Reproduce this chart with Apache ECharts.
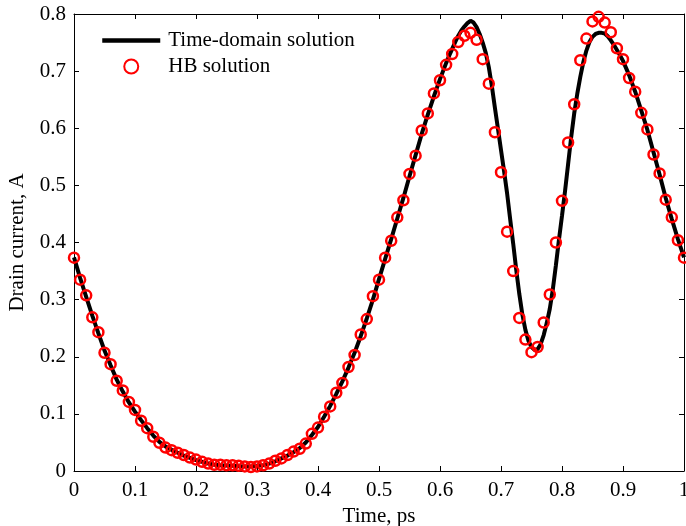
<!DOCTYPE html>
<html>
<head>
<meta charset="utf-8">
<script src="https://cdn.jsdelivr.net/npm/echarts@6/dist/echarts.min.js"></script>
<style>html,body{margin:0;padding:0;background:#fff}#c{width:686px;height:526px}</style>
</head>
<body>
<div id="c"></div>
<script>
// Time-domain solution (line)
var tdTime = [0,0.01,0.02,0.03,0.04,0.05,0.06,0.07,0.08,0.09,0.10,0.11,0.12,0.13,0.14,0.15,0.16,0.17,0.18,0.19,
  0.20,0.21,0.22,0.23,0.24,0.25,0.26,0.27,0.28,0.29,0.30,0.31,0.32,0.33,0.34,0.35,0.36,0.37,0.38,0.39,
  0.40,0.41,0.42,0.43,0.44,0.45,0.46,0.47,0.48,0.49,0.50,0.51,0.52,0.53,0.54,0.55,0.56,0.57,0.58,0.59,
  0.60,0.605,0.61,0.615,0.62,0.625,0.63,0.635,0.64,0.645,0.65,0.655,0.66,0.665,0.67,0.675,0.68,0.685,0.69,0.695,
  0.70,0.705,0.71,0.715,0.72,0.725,0.73,0.735,0.74,0.745,0.75,0.755,0.76,0.765,0.77,0.775,0.78,0.785,0.79,0.795,
  0.80,0.805,0.81,0.815,0.82,0.825,0.83,0.835,0.84,0.845,0.85,0.855,0.86,0.865,0.87,0.875,0.88,0.885,0.89,0.895,
  0.90,0.91,0.92,0.93,0.94,0.95,0.96,0.97,0.98,0.99,1.00];
var tdCurrent = [0.374,0.338,0.305,0.272,0.241,0.211,0.185,0.160,0.139,0.120,0.104,0.089,0.075,0.062,0.051,0.043,0.037,0.032,0.027,0.023,
  0.019,0.016,0.013,0.011,0.010,0.0095,0.009,0.0085,0.008,0.008,0.009,0.010,0.013,0.017,0.022,0.027,0.033,0.040,0.050,0.063,
  0.077,0.095,0.114,0.135,0.157,0.181,0.207,0.236,0.267,0.300,0.336,0.371,0.406,0.442,0.478,0.516,0.553,0.590,0.624,0.656,
  0.686,0.700,0.714,0.727,0.739,0.751,0.762,0.771,0.778,0.784,0.788,0.785,0.777,0.765,0.750,0.732,0.707,0.674,0.636,0.599,
  0.562,0.525,0.486,0.441,0.398,0.352,0.310,0.274,0.247,0.228,0.217,0.212,0.213,0.222,0.238,0.259,0.284,0.318,0.360,0.405,
  0.447,0.490,0.537,0.584,0.626,0.660,0.690,0.716,0.736,0.751,0.760,0.765,0.767,0.767,0.766,0.761,0.754,0.746,0.737,0.728,
  0.718,0.693,0.664,0.631,0.597,0.558,0.519,0.478,0.441,0.406,0.374];

// HB solution (circles)
var hbTime = [0,0.01,0.02,0.03,0.04,0.05,0.06,0.07,0.08,0.09,0.10,0.11,0.12,0.13,0.14,0.15,0.16,0.17,0.18,0.19,
  0.20,0.21,0.22,0.23,0.24,0.25,0.26,0.27,0.28,0.29,0.30,0.31,0.32,0.33,0.34,0.35,0.36,0.37,0.38,0.39,
  0.40,0.41,0.42,0.43,0.44,0.45,0.46,0.47,0.48,0.49,0.50,0.51,0.52,0.53,0.54,0.55,0.56,0.57,0.58,0.59,
  0.60,0.61,0.62,0.63,0.64,0.65,0.66,0.67,0.68,0.69,0.70,0.71,0.72,0.73,0.74,0.75,0.76,0.77,0.78,0.79,
  0.80,0.81,0.82,0.83,0.84,0.85,0.86,0.87,0.88,0.89,0.90,0.91,0.92,0.93,0.94,0.95,0.96,0.97,0.98,0.99,1.00];
var hbCurrent = [0.3735,0.335,0.3075,0.269,0.243,0.207,0.187,0.158,0.141,0.121,0.107,0.088,0.075,0.060,0.0495,0.041,0.0365,0.032,0.028,0.0235,
  0.020,0.016,0.013,0.011,0.011,0.010,0.010,0.009,0.008,0.007,0.008,0.010,0.013,0.018,0.022,0.028,0.034,0.039,0.048,0.065,
  0.076,0.095,0.113,0.137,0.154,0.182,0.203,0.239,0.266,0.306,0.335,0.3735,0.403,0.444,0.474,0.520,0.552,0.596,0.626,0.661,
  0.684,0.711,0.730,0.751,0.762,0.767,0.755,0.721,0.678,0.593,0.523,0.419,0.350,0.268,0.230,0.208,0.217,0.260,0.309,0.400,
  0.473,0.575,0.642,0.719,0.757,0.787,0.795,0.785,0.768,0.740,0.721,0.688,0.664,0.627,0.598,0.554,0.521,0.475,0.444,0.404,0.3735];

var seriesNames = ['Time-domain solution', 'HB solution'];
var xName = 'Time, ps';
var yName = 'Drain current, A';

var tdData = tdTime.map(function (t, i) { return [t, tdCurrent[i]]; });
var hbData = hbTime.map(function (t, i) { return [t, hbCurrent[i]]; });

var FONT = 'Liberation Serif';
var chart = echarts.init(document.getElementById('c'), null, {renderer: 'canvas'});
function axisBase() {
  return {
    type: 'value',
    axisLine: {show: true, onZero: false, lineStyle: {color: '#000', width: 1}},
    axisTick: {show: true, inside: true, length: 5, lineStyle: {color: '#000', width: 1}},
    splitLine: {show: false}
  };
}
chart.setOption({
  animation: false,
  backgroundColor: '#fff',
  grid: {left: 74, right: 2, top: 14, bottom: 55, containLabel: false, outerBoundsMode: 'none'},
  legend: {
    left: 100, top: 30, orient: 'vertical', padding: 0,
    itemWidth: 58, itemHeight: 14, itemGap: 5,
    textStyle: {fontFamily: FONT, fontSize: 21, color: '#000', padding: [0, 0, 0, 3]},
    data: [
      {name: seriesNames[0], itemStyle: {opacity: 0}, lineStyle: {width: 4.5, color: '#000', opacity: 1}},
      {name: seriesNames[1]}
    ]
  },
  xAxis: [
    Object.assign(axisBase(), {
      position: 'bottom', min: 0, max: 1, interval: 0.1,
      name: xName, nameLocation: 'middle', nameGap: 35,
      nameTextStyle: {fontFamily: FONT, fontSize: 21, color: '#000'},
      axisLabel: {fontFamily: FONT, fontSize: 21, color: '#000', margin: 9, showMaxLabel: true, showMinLabel: true}
    }),
    Object.assign(axisBase(), {
      position: 'top', min: 0, max: 1, interval: 0.1, axisLabel: {show: false}
    })
  ],
  yAxis: [
    Object.assign(axisBase(), {
      position: 'left', min: 0, max: 0.8, interval: 0.1,
      name: yName, nameLocation: 'middle', nameGap: 46, nameRotate: 90,
      nameTextStyle: {fontFamily: FONT, fontSize: 21, color: '#000'},
      axisLabel: {fontFamily: FONT, fontSize: 21, color: '#000', margin: 8, showMaxLabel: true, showMinLabel: true}
    }),
    Object.assign(axisBase(), {
      position: 'right', min: 0, max: 0.8, interval: 0.1, axisLabel: {show: false}
    })
  ],
  series: [
    {
      name: seriesNames[0], type: 'line', data: tdData,
      xAxisIndex: 0, yAxisIndex: 0,
      symbol: 'none', showSymbol: false,
      lineStyle: {color: '#000', width: 4},
      itemStyle: {color: '#000'},
      z: 2
    },
    {
      name: seriesNames[1], type: 'scatter', data: hbData,
      xAxisIndex: 0, yAxisIndex: 0,
      symbol: 'circle', symbolSize: 10,
      itemStyle: {color: 'rgba(0,0,0,0)', borderColor: '#ff0000', borderWidth: 2.5, opacity: 1},
      z: 3
    }
  ]
});
</script>
</body>
</html>
